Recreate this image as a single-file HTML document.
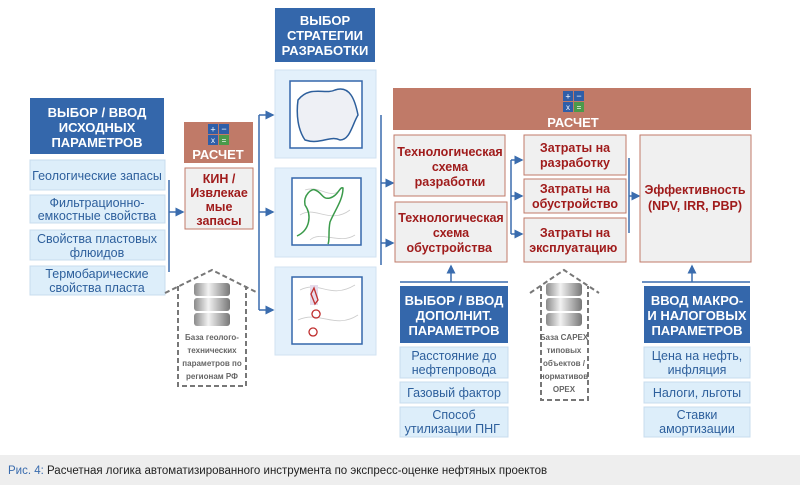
<!DOCTYPE html><html><head><meta charset="utf-8"><style>
body{margin:0;background:#fff;}
svg{display:block;font-family:"Liberation Sans",sans-serif;}
.h{fill:#fff;font-weight:bold;font-size:13px;text-anchor:middle}
.b{fill:#2d5f9c;font-size:12.5px;text-anchor:middle}
.r{fill:#a01c1c;font-weight:bold;font-size:12.5px;text-anchor:middle}
.g{fill:#666;font-weight:bold;font-size:8px;text-anchor:middle}
</style></head><body>
<svg width="800" height="490" viewBox="0 0 800 490">
<defs><marker id="a" markerWidth="6" markerHeight="6" refX="5" refY="3" orient="auto"><path d="M0,0L6,3L0,6z" fill="#3a6cae"/></marker>
<linearGradient id="cy" x1="0" x2="1"><stop offset="0" stop-color="#8a8a8a"/><stop offset=".4" stop-color="#f2f2f2"/><stop offset="1" stop-color="#777"/></linearGradient>
<g id="calc"><rect x="0" y="0" width="10" height="10" fill="#2e5ea8"/><rect x="11" y="0" width="10" height="10" fill="#2e5ea8"/><rect x="0" y="11" width="10" height="10" fill="#2e5ea8"/><rect x="11" y="11" width="10" height="10" fill="#4a9a4a"/><text x="5" y="8.5" fill="#fff" font-size="9" text-anchor="middle">+</text><text x="16" y="8" fill="#fff" font-size="9" text-anchor="middle">−</text><text x="5" y="19" fill="#fff" font-size="8" text-anchor="middle">x</text><text x="16" y="19" fill="#fff" font-size="8" text-anchor="middle">=</text></g>
<g id="db"><rect x="0" y="0" width="36" height="13" rx="3" fill="url(#cy)"/><rect x="0" y="15" width="36" height="13" rx="3" fill="url(#cy)"/><rect x="0" y="30" width="36" height="13" rx="3" fill="url(#cy)"/></g>
</defs>
<g stroke="#3a6cae" stroke-width="1.5" fill="none">
<path d="M169 180V272"/><path d="M169 212H183" marker-end="url(#a)"/>
<path d="M259 115V310"/><path d="M259 115H273" marker-end="url(#a)"/><path d="M259 212H273" marker-end="url(#a)"/><path d="M259 310H273" marker-end="url(#a)"/>
<path d="M381 115V265"/><path d="M381 183H393" marker-end="url(#a)"/><path d="M381 243H393" marker-end="url(#a)"/>
<path d="M511 160V234"/><path d="M511 160H522" marker-end="url(#a)"/><path d="M511 196H522" marker-end="url(#a)"/><path d="M511 234H522" marker-end="url(#a)"/>
<path d="M629 158V233"/><path d="M629 196H639" marker-end="url(#a)"/>
<path d="M400 282H508M451 282V266" marker-end="url(#a)"/>
<path d="M642 282H750M692 282V266" marker-end="url(#a)"/>
</g>
<!-- left -->
<rect x="30" y="98" width="134" height="56" fill="#3467ab"/>
<text class="h"><tspan x="97" y="117">ВЫБОР / ВВОД</tspan><tspan x="97" y="132">ИСХОДНЫХ</tspan><tspan x="97" y="147">ПАРАМЕТРОВ</tspan></text>
<g fill="#ddeefa" stroke="#c8dcee"><rect x="30" y="160" width="135" height="30"/><rect x="30" y="195" width="135" height="28"/><rect x="30" y="230" width="135" height="30"/><rect x="30" y="266" width="135" height="29"/></g>
<text class="b"><tspan x="97" y="180">Геологические запасы</tspan><tspan x="97" y="207">Фильтрационно-</tspan><tspan x="97" y="220">емкостные свойства</tspan><tspan x="97" y="243">Свойства пластовых</tspan><tspan x="97" y="257">флюидов</tspan><tspan x="97" y="278">Термобарические</tspan><tspan x="97" y="292">свойства пласта</tspan></text>
<rect x="184" y="122" width="69" height="41" fill="#c07a68"/><use href="#calc" x="208" y="124"/><text class="h" x="218" y="159">РАСЧЕТ</text>
<rect x="185" y="168" width="68" height="61" fill="#f0f0f0" stroke="#c07a68"/>
<text class="r"><tspan x="219" y="183">КИН /</tspan><tspan x="219" y="197">Извлекае</tspan><tspan x="219" y="211">мые</tspan><tspan x="219" y="225">запасы</tspan></text>
<!-- DB1 -->
<path d="M165 293L212 270L258 293M178 286V386H246V286" fill="none" stroke="#777" stroke-width="2" stroke-dasharray="5,3"/>
<use href="#db" x="194" y="283"/>
<text class="g"><tspan x="212" y="340">База геолого-</tspan><tspan x="212" y="353">технических</tspan><tspan x="212" y="366">параметров по</tspan><tspan x="212" y="379">регионам РФ</tspan></text>
<!-- strategy -->
<rect x="275" y="8" width="100" height="54" fill="#3467ab"/>
<text class="h"><tspan x="325" y="25">ВЫБОР</tspan><tspan x="325" y="40">СТРАТЕГИИ</tspan><tspan x="325" y="55">РАЗРАБОТКИ</tspan></text>
<g fill="#e3f0fb" stroke="#d0e2f2"><rect x="275" y="70" width="101" height="88"/><rect x="275" y="168" width="101" height="89"/><rect x="275" y="267" width="101" height="88"/></g>
<g fill="#fff" stroke="#3467ab" stroke-width="1.5"><rect x="290" y="81" width="72" height="67"/><rect x="292" y="178" width="69" height="67"/><rect x="292" y="277" width="70" height="67"/></g>
<path d="M298 100C310 85 325 95 335 90C350 85 355 100 358 115C352 125 350 140 340 140C330 135 320 145 305 140C298 130 296 115 298 100Z" fill="#eef0f5" stroke="#2d5f9c" stroke-width="1.5"/>
<path d="M305 190C320 185 330 200 340 190M300 215C315 205 330 225 350 210M310 240C320 230 340 245 355 235M300 290C320 280 330 300 355 285M298 320C320 310 335 330 358 315" fill="none" stroke="#ccc" stroke-width="0.8"/>
<path d="M297 236C310 230 312 215 305 205C303 195 312 188 315 190C322 192 322 200 330 198C338 196 340 186 343 188C343 200 335 210 330 222C328 232 330 240 328 244" fill="none" stroke="#3a9a4a" stroke-width="1.5"/>
<rect x="310" y="285" width="8" height="20" fill="#e6dcec"/>
<path d="M314 288l4 12-3 4-4-10z M316 318a4 4 0 1 1 0.1 0z M313 328a4 4 0 1 0 0.1 0z" fill="none" stroke="#c03030" stroke-width="1.3"/>
<!-- right calc -->
<rect x="393" y="88" width="358" height="42" fill="#c07a68"/><use href="#calc" x="563" y="91"/><text class="h" x="573" y="127">РАСЧЕТ</text>
<g fill="#f0f0f0" stroke="#c07a68"><rect x="394" y="135" width="111" height="61"/><rect x="395" y="202" width="112" height="60"/><rect x="524" y="135" width="102" height="40"/><rect x="524" y="179" width="102" height="34"/><rect x="524" y="218" width="102" height="44"/><rect x="640" y="135" width="111" height="127"/></g>
<text class="r"><tspan x="450" y="156">Технологическая</tspan><tspan x="450" y="171">схема</tspan><tspan x="450" y="186">разработки</tspan><tspan x="451" y="222">Технологическая</tspan><tspan x="451" y="237">схема</tspan><tspan x="451" y="252">обустройства</tspan>
<tspan x="575" y="152">Затраты на</tspan><tspan x="575" y="167">разработку</tspan><tspan x="575" y="193">Затраты на</tspan><tspan x="575" y="208">обустройство</tspan><tspan x="575" y="237">Затраты на</tspan><tspan x="575" y="252">эксплуатацию</tspan>
<tspan x="695" y="194">Эффективность</tspan><tspan x="695" y="210">(NPV, IRR, PBP)</tspan></text>
<!-- bottom blue -->
<rect x="400" y="286" width="108" height="57" fill="#3467ab"/>
<text class="h"><tspan x="454" y="305">ВЫБОР / ВВОД</tspan><tspan x="454" y="320">ДОПОЛНИТ.</tspan><tspan x="454" y="335">ПАРАМЕТРОВ</tspan></text>
<rect x="644" y="286" width="106" height="57" fill="#3467ab"/>
<text class="h"><tspan x="697" y="305">ВВОД МАКРО-</tspan><tspan x="697" y="320">И НАЛОГОВЫХ</tspan><tspan x="697" y="335">ПАРАМЕТРОВ</tspan></text>
<g fill="#ddeefa" stroke="#c8dcee"><rect x="400" y="347" width="108" height="31"/><rect x="400" y="382" width="108" height="21"/><rect x="400" y="407" width="108" height="30"/><rect x="644" y="347" width="106" height="31"/><rect x="644" y="382" width="106" height="21"/><rect x="644" y="407" width="106" height="30"/></g>
<text class="b"><tspan x="454" y="360">Расстояние до</tspan><tspan x="454" y="374">нефтепровода</tspan><tspan x="454" y="397">Газовый фактор</tspan><tspan x="454" y="419">Способ</tspan><tspan x="454" y="433">утилизации ПНГ</tspan>
<tspan x="697" y="360">Цена на нефть,</tspan><tspan x="697" y="374">инфляция</tspan><tspan x="697" y="397">Налоги, льготы</tspan><tspan x="697" y="419">Ставки</tspan><tspan x="697" y="433">амортизации</tspan></text>
<!-- DB2 -->
<path d="M530 293L564 270L599 293M541 286V400H588V286" fill="none" stroke="#777" stroke-width="2" stroke-dasharray="5,3"/>
<use href="#db" x="546" y="283"/>
<text class="g"><tspan x="564" y="340">База CAPEX</tspan><tspan x="564" y="353">типовых</tspan><tspan x="564" y="366">объектов /</tspan><tspan x="564" y="379">нормативов</tspan><tspan x="564" y="392">OPEX</tspan></text>
<!-- caption -->
<rect x="0" y="455" width="800" height="30" fill="#eeeeee"/>
<text x="8" y="474" font-size="11.5" fill="#222"><tspan fill="#3a6cae">Рис. 4:</tspan> Расчетная логика автоматизированного инструмента по экспресс-оценке нефтяных проектов</text>
</svg></body></html>
